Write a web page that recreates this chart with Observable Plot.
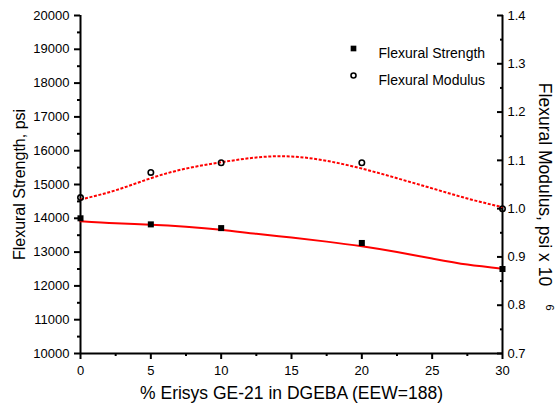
<!DOCTYPE html>
<html><head><meta charset="utf-8">
<script src="https://cdn.jsdelivr.net/npm/d3@7"></script>
<script src="https://cdn.jsdelivr.net/npm/@observablehq/plot@0.6"></script>
<style>
body{margin:0;background:#fff}
#chart svg{font-family:"Liberation Sans",Arial,sans-serif;background:#fff}
</style>
</head><body><div id="chart"></div>
<script>
// measured points
const pointX = [0, 5, 10, 20, 30];
const strengthPts = [14000, 13820, 13710, 13270, 12500];
const modulusPts = [1.023, 1.075, 1.095, 1.095, 1.0];
// fitted curves
const fitX = [0, 2.5, 5, 7.5, 10, 12.5, 15, 17.5, 20, 22.5, 25, 27.5, 30];
const strengthFit = [13910, 13850, 13810, 13750, 13660, 13540, 13430, 13310, 13170, 13000, 12810, 12630, 12510];
const modulusFit = [1.019, 1.038, 1.063, 1.083, 1.096, 1.106, 1.108, 1.099, 1.083, 1.063, 1.042, 1.021, 1.003];
// ticks
const xTicks = [0, 5, 10, 15, 20, 25, 30];
const xMinor = [2.5, 7.5, 12.5, 17.5, 22.5, 27.5];
const strengthTicks = [10000, 11000, 12000, 13000, 14000, 15000, 16000, 17000, 18000, 19000, 20000];
const strengthMinor = [10500, 11500, 12500, 13500, 14500, 15500, 16500, 17500, 18500, 19500];
const modulusTicks = [0.7, 0.8, 0.9, 1.0, 1.1, 1.2, 1.3, 1.4];
const modulusTickLabels = ["0.7", "0.8", "0.9", "1.0", "1.1", "1.2", "1.3", "1.4"];
const modulusMinor = [0.75, 0.85, 0.95, 1.05, 1.15, 1.25, 1.35];
const legendLabels = ["Flexural Strength", "Flexural Modulus"];
const xLabel = "% Erisys GE-21 in DGEBA (EEW=188)";
const yLabel = "Flexural Strength, psi";
const y2Label = "Flexural Modulus, psi x 10";
const y2Exp = "6";

// map modulus (right axis 0.7–1.4) onto the strength scale (10000–20000)
const toLeft = m => 10000 + (m - 0.7) / 0.7 * 10000;

const chart = Plot.plot({
  width: 557,
  height: 406,
  marginLeft: 80,
  marginRight: 55,
  marginTop: 15,
  marginBottom: 53,
  x: {domain: [0, 30]},
  y: {domain: [10000, 20000]},
  style: {fontFamily: "Liberation Sans, Arial, sans-serif", fontSize: "13px", color: "black", background: "white"},
  marks: [
    // axes
    Plot.axisY(strengthTicks, {anchor: "left", tickSize: 6, tickPadding: 5, strokeWidth: 2, fontSize: 13, label: null, tickFormat: d => String(d)}),
    Plot.axisY(strengthMinor, {anchor: "left", tickSize: 3, strokeWidth: 2, label: null, tickFormat: () => ""}),
    Plot.axisY(modulusTicks.map(toLeft), {anchor: "right", tickSize: -6, tickPadding: 11, strokeWidth: 2, fontSize: 13, label: null, tickFormat: (d, i) => modulusTickLabels[i]}),
    Plot.axisY(modulusMinor.map(toLeft), {anchor: "right", tickSize: -3, strokeWidth: 2, label: null, tickFormat: () => ""}),
    Plot.axisX(xTicks, {anchor: "bottom", tickSize: 6, tickPadding: 6, strokeWidth: 2, fontSize: 13, label: null, tickFormat: d => String(d)}),
    Plot.axisX(xMinor, {anchor: "bottom", tickSize: 3, strokeWidth: 2, label: null, tickFormat: () => ""}),
    Plot.ruleY([10000], {strokeWidth: 2}),
    Plot.ruleX([0, 30], {strokeWidth: 2}),
    // fitted curves
    Plot.line(fitX, {x: d => d, y: (d, i) => strengthFit[i], stroke: "#ff0000", strokeWidth: 2, curve: "natural"}),
    Plot.line(fitX, {x: d => d, y: (d, i) => toLeft(modulusFit[i]), stroke: "#ff0000", strokeWidth: 2, strokeDasharray: "3,1.6", strokeLinecap: "butt", curve: "natural"}),
    // measured points
    Plot.dot(pointX, {x: d => d, y: (d, i) => strengthPts[i], symbol: "square", r: 3.4, fill: "black"}),
    Plot.dot(pointX, {x: d => d, y: (d, i) => toLeft(modulusPts[i]), symbol: "circle", r: 2.7, stroke: "black", strokeWidth: 1.6, fill: "none"}),
    // legend
    Plot.dot([legendLabels[0]], {frameAnchor: "top-left", dx: 273, dy: 33, symbol: "square", r: 3.2, fill: "black"}),
    Plot.text([legendLabels[0]], {text: d => d, frameAnchor: "top-left", dx: 298, dy: 33, textAnchor: "start", fontSize: 14}),
    Plot.dot([legendLabels[1]], {frameAnchor: "top-left", dx: 273, dy: 60, symbol: "circle", r: 2.5, stroke: "black", strokeWidth: 1.6, fill: "none"}),
    Plot.text([legendLabels[1]], {text: d => d, frameAnchor: "top-left", dx: 298, dy: 60, textAnchor: "start", fontSize: 14}),
    // axis titles
    Plot.text([xLabel], {text: d => d, frameAnchor: "bottom", dy: 45, textAnchor: "middle", fontSize: 17.5}),
    Plot.text([yLabel], {text: d => d, frameAnchor: "left", dx: -61, rotate: -90, textAnchor: "middle", fontSize: 16}),
    Plot.text([y2Label], {text: d => d, frameAnchor: "right", dx: 42, rotate: 90, textAnchor: "middle", fontSize: 17.5}),
    Plot.text([y2Exp], {text: d => d, frameAnchor: "right", dx: 47.5, dy: 123, rotate: 90, textAnchor: "middle", fontSize: 11})
  ]
});
document.getElementById("chart").appendChild(chart);
</script>
</body></html>
